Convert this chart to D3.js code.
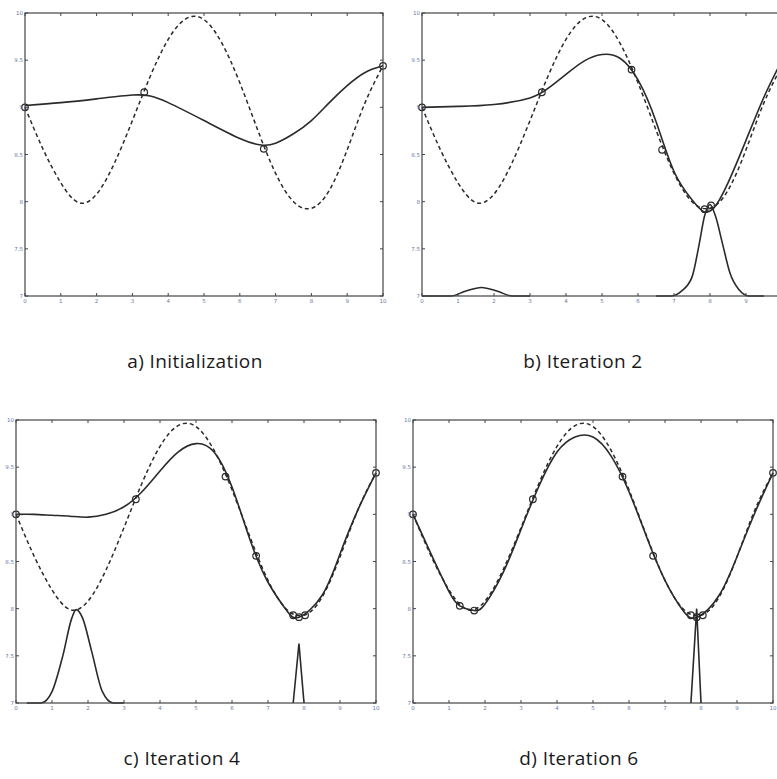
<!DOCTYPE html>
<html>
<head>
<meta charset="utf-8">
<script src="https://cdn.jsdelivr.net/npm/d3@7"></script>
<style>
  html, body { margin: 0; padding: 0; background: #fff; overflow: hidden; }
</style>
</head>
<body>
<div id="chart"></div>
<script>
// ---- data ----
const xTicks = [0, 1, 2, 3, 4, 5, 6, 7, 8, 9, 10];
const yTicks = [7, 7.5, 8, 8.5, 9, 9.5, 10];
const yTickLabels = ['7', '7.5', '8', '8.5', '9', '9.5', '10'];
const captions = ['a) Initialization', 'b) Iteration 2', 'c) Iteration 4', 'd) Iteration 6'];

// dashed target curve (same in every panel)
const target = [[0, 9.00], [0.5, 8.56], [1, 8.20], [1.5, 7.99], [2, 8.08], [2.5, 8.41], [3, 8.86],
  [3.5, 9.33], [4, 9.72], [4.5, 9.94], [5, 9.93], [5.5, 9.68], [6, 9.26], [6.5, 8.76],
  [7, 8.30], [7.5, 8.00], [8, 7.93], [8.5, 8.12], [9, 8.55], [9.5, 9.05], [10, 9.44]];

// solid fits per panel
const fitA = [[0, 9.02], [1, 9.05], [2, 9.09], [3, 9.13], [3.5, 9.12], [4, 9.05], [5, 8.86],
  [6, 8.67], [6.6, 8.60], [7, 8.62], [7.5, 8.72], [8, 8.86], [8.5, 9.05], [9, 9.23], [9.5, 9.37], [10, 9.44]];
const fitB = [[0, 9.00], [1, 9.01], [2, 9.03], [3, 9.10], [3.5, 9.20], [4, 9.35], [4.5, 9.49],
  [5, 9.56], [5.5, 9.52], [6, 9.29], [6.5, 8.85], [7, 8.32], [7.5, 8.02], [7.8, 7.90],
  [8.1, 7.93], [8.5, 8.20], [9, 8.65], [9.5, 9.11], [10, 9.50]];
const fitC = [[0, 9.00], [0.5, 9.00], [1, 8.99], [1.5, 8.98], [2, 8.97], [2.5, 9.00], [3, 9.08],
  [3.5, 9.24], [4, 9.46], [4.5, 9.66], [5, 9.75], [5.5, 9.66], [6, 9.29], [6.5, 8.73],
  [7, 8.28], [7.5, 7.99], [7.86, 7.91], [8.5, 8.14], [9, 8.58], [9.5, 9.05], [10, 9.44]];
const fitD = [[0, 9.00], [0.5, 8.58], [1, 8.18], [1.3, 8.03], [1.7, 7.98], [2, 8.05], [2.5, 8.38],
  [3, 8.84], [3.5, 9.30], [4, 9.66], [4.5, 9.82], [5, 9.82], [5.5, 9.62],
  [6, 9.24], [6.5, 8.75], [7, 8.30], [7.5, 7.98], [7.9, 7.91], [8.5, 8.14], [9, 8.55], [9.5, 9.02], [10, 9.44]];

// sample points (circles)
const ptsA = [[0, 9.00], [3.33, 9.16], [6.67, 8.56], [10, 9.44]];
const ptsB = [[0, 9.00], [3.33, 9.16], [5.82, 9.40], [6.67, 8.55], [7.85, 7.92], [8.03, 7.96]];
const ptsC = [[0, 9.00], [3.33, 9.16], [5.82, 9.40], [6.67, 8.56], [7.70, 7.93], [7.86, 7.91], [8.03, 7.93], [10, 9.44]];
const ptsD = [[0, 9.00], [1.30, 8.03], [1.70, 7.98], [3.33, 9.16], [5.82, 9.40], [6.67, 8.56],
  [7.72, 7.93], [7.88, 7.91], [8.05, 7.93], [10, 9.44]];

// bumps along the bottom
const bumpB1 = [[0, 7.0], [0.8, 7.0], [1.2, 7.05], [1.65, 7.09], [2.1, 7.05], [2.5, 7.0], [3, 7.0]];
const bumpB2 = [[6.5, 7.0], [6.9, 7.0], [7.2, 7.05], [7.5, 7.20], [7.7, 7.55], [7.85, 7.85], [8.0, 7.97],
  [8.15, 7.85], [8.35, 7.55], [8.55, 7.25], [8.8, 7.07], [9.1, 7.0], [9.5, 7.0]];
const bumpC1 = [[0.3, 7.0], [0.7, 7.0], [1.0, 7.12], [1.3, 7.5], [1.55, 7.9], [1.67, 7.99], [1.85, 7.9],
  [2.1, 7.55], [2.4, 7.12], [2.7, 7.0], [3.0, 7.0]];
const spikeC = [[7.7, 7.0], [7.86, 7.63], [8.0, 7.0]];
const spikeD = [[7.72, 7.0], [7.88, 8.0], [8.0, 7.0]];

// ---- layout ----
const W = 777, H = 779;
const panels = [
  { left: 25, right: 383, top: 13, bottom: 296, capX: 195, capY: 368, fit: fitA, pts: ptsA, bumps: [] , spikes: [] },
  { left: 422, right: 782, top: 13, bottom: 296, capX: 583, capY: 368, fit: fitB, pts: ptsB, bumps: [bumpB1, bumpB2], spikes: [] },
  { left: 16, right: 376, top: 420, bottom: 703, capX: 182, capY: 765, fit: fitC, pts: ptsC, bumps: [bumpC1], spikes: [spikeC] },
  { left: 413, right: 773, top: 420, bottom: 703, capX: 579, capY: 765, fit: fitD, pts: ptsD, bumps: [], spikes: [spikeD] }
];

const svg = d3.select('#chart').append('svg')
  .attr('width', W).attr('height', H);

panels.forEach((p, i) => {
  const x = d3.scaleLinear().domain([0, 10]).range([p.left, p.right]);
  const y = d3.scaleLinear().domain([7, 10]).range([p.bottom, p.top]);
  const g = svg.append('g');

  const clipId = 'clip' + i;
  g.append('clipPath').attr('id', clipId)
    .append('rect').attr('x', p.left - 4).attr('y', p.top - 4)
    .attr('width', p.right - p.left + 8).attr('height', p.bottom - p.top + 8);

  const smooth = d3.line().x(d => x(d[0])).y(d => y(d[1])).curve(d3.curveNatural);
  const bumpLine = d3.line().x(d => x(d[0])).y(d => y(d[1])).curve(d3.curveMonotoneX);
  const straight = d3.line().x(d => x(d[0])).y(d => y(d[1]));

  const plot = g.append('g').attr('clip-path', `url(#${clipId})`);

  // target, dashed
  plot.append('path').attr('d', smooth(target))
    .attr('fill', 'none').attr('stroke', '#2a2a2a').attr('stroke-width', 1.5)
    .attr('stroke-dasharray', '4,3');

  // fitted curve
  plot.append('path').attr('d', smooth(p.fit))
    .attr('fill', 'none').attr('stroke', '#2a2a2a').attr('stroke-width', 1.6);

  p.bumps.forEach(b => {
    plot.append('path').attr('d', bumpLine(b))
      .attr('fill', 'none').attr('stroke', '#2a2a2a').attr('stroke-width', 1.6);
  });
  p.spikes.forEach(s => {
    plot.append('path').attr('d', straight(s))
      .attr('fill', 'none').attr('stroke', '#2a2a2a').attr('stroke-width', 1.6);
  });

  plot.selectAll('circle.pt').data(p.pts).enter()
    .append('circle').attr('class', 'pt')
    .attr('cx', d => x(d[0])).attr('cy', d => y(d[1])).attr('r', 3.3)
    .attr('fill', 'none').attr('stroke', '#2a2a2a').attr('stroke-width', 1.2);

  // frame
  g.append('rect').attr('x', p.left).attr('y', p.top)
    .attr('width', p.right - p.left).attr('height', p.bottom - p.top)
    .attr('fill', 'none').attr('stroke', '#444').attr('stroke-width', 1.2);

  // ticks, inward on all four sides
  const tickLen = 3;
  const ticks = g.append('g').attr('stroke', '#444').attr('stroke-width', 1);
  xTicks.forEach(t => {
    ticks.append('line').attr('x1', x(t)).attr('x2', x(t)).attr('y1', p.bottom).attr('y2', p.bottom - tickLen);
    ticks.append('line').attr('x1', x(t)).attr('x2', x(t)).attr('y1', p.top).attr('y2', p.top + tickLen);
  });
  yTicks.forEach(t => {
    ticks.append('line').attr('x1', p.left).attr('x2', p.left + tickLen).attr('y1', y(t)).attr('y2', y(t));
    ticks.append('line').attr('x1', p.right).attr('x2', p.right - tickLen).attr('y1', y(t)).attr('y2', y(t));
  });

  const lab = g.append('g').attr('font-family', 'DejaVu Sans, sans-serif')
    .attr('font-size', 5.5).attr('fill', '#6a78a8');
  // labels past the page edge are not shown (cropped in the original)
  xTicks.filter(t => x(t) <= W).forEach(t => {
    lab.append('text').attr('x', x(t)).attr('y', p.bottom + 7)
      .attr('text-anchor', 'middle').text(t);
  });
  yTicks.forEach((t, k) => {
    lab.append('text').attr('x', p.left - 2).attr('y', y(t) + 2)
      .attr('text-anchor', 'end').text(yTickLabels[k]);
  });

  svg.append('text').attr('x', p.capX).attr('y', p.capY)
    .attr('text-anchor', 'middle')
    .attr('font-family', 'Open Sans, sans-serif').attr('font-size', 19)
    .attr('letter-spacing', 0.4)
    .attr('fill', '#1a1a1a').text(captions[i]);
});
</script>
</body>
</html>
